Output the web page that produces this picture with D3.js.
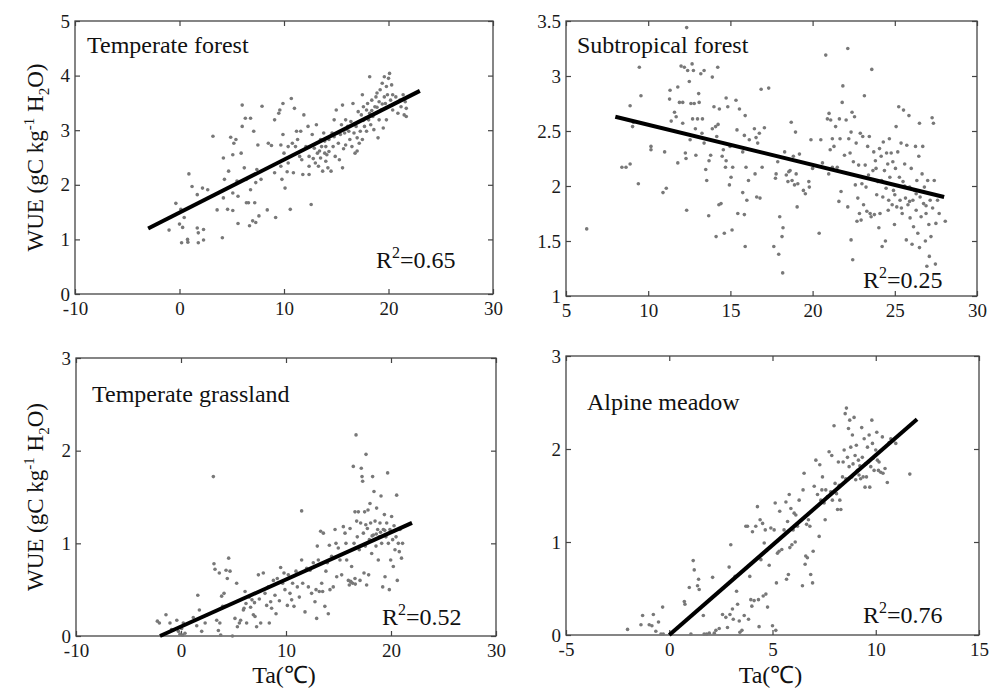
<!DOCTYPE html>
<html><head><meta charset="utf-8">
<script src="https://cdn.jsdelivr.net/npm/d3@7"></script>
<style>body{margin:0;background:#fff}svg{display:block}</style>
</head><body><svg id="c" width="1000" height="693"></svg>
<script>
// ---------- DATA ----------
const panelTitles = ["Temperate forest", "Subtropical forest", "Temperate grassland", "Alpine meadow"];
const r2Values = ["0.65", "0.25", "0.52", "0.76"];
const xDomains = [[-10, 30], [5, 30], [-10, 30], [-5, 15]];
const yDomains = [[0, 5], [1, 3.5], [0, 3], [0, 3]];
const xTickValues = [[-10, 0, 10, 20, 30], [5, 10, 15, 20, 25, 30], [-10, 0, 10, 20, 30], [-5, 0, 5, 10, 15]];
const yTickValues = [[0, 1, 2, 3, 4, 5], [1, 1.5, 2, 2.5, 3, 3.5], [0, 1, 2, 3], [0, 1, 2, 3]];
const fitLines = [
  [[-3, 1.2], [23, 3.72]],
  [[8, 2.63], [28, 1.9]],
  [[-2, 0], [22, 1.22]],
  [[0, 0], [12, 2.32]]
];
const temperateForest = [[-1.0,1.17],[-0.35,1.66],[0.13,1.55],[0.0,1.28],[0.2,0.94],[0.77,1.0],[0.8,0.95],[0.9,2.2],[1.2,1.97],[0.3,1.22],[0.45,1.40],[1.7,1.21],[1.8,1.12],[1.8,0.94],[2.3,1.18],[2.3,0.99],[1.7,1.82],[2.2,1.94],[2.7,1.91],[3.2,2.89],[3.6,1.54],[4.1,1.03],[4.2,1.76],[4.3,2.10],[4.2,2.49],[4.6,1.55],[4.7,2.25],[4.9,2.87],[5.1,2.55],[5.1,1.85],[5.1,1.53],[5.2,2.76],[5.4,2.83],[5.5,2.07],[5.6,1.29],[5.6,1.79],[5.9,2.58],[6.0,3.46],[6.0,3.07],[6.2,2.31],[6.3,3.22],[6.4,1.67],[6.4,2.10],[6.6,1.67],[6.7,1.25],[6.8,3.22],[6.8,1.91],[7.0,1.34],[7.1,2.98],[7.2,1.67],[7.3,1.31],[7.3,2.04],[7.4,2.28],[7.5,2.73],[7.6,1.43],[7.8,2.10],[7.9,3.44],[8.4,1.54],[8.5,2.76],[8.8,2.72],[9.1,2.22],[9.1,3.19],[9.2,1.40],[9.5,3.31],[9.6,3.37],[9.7,2.34],[9.7,2.73],[9.8,2.10],[9.9,2.92],[9.9,3.49],[10.0,2.58],[10.1,1.94],[10.3,2.24],[10.4,2.40],[10.4,2.70],[10.6,1.55],[10.7,3.58],[10.8,2.76],[10.9,2.22],[11.0,3.40],[11.1,2.70],[11.2,2.98],[11.3,2.83],[11.5,2.52],[11.6,2.98],[11.7,2.46],[11.8,2.19],[11.9,3.28],[12.1,2.70],[12.3,3.07],[12.4,2.34],[12.4,2.19],[12.6,1.64],[12.4,2.52],[12.7,2.92],[12.9,2.67],[13.0,2.40],[13.1,3.10],[13.2,2.58],[13.3,2.34],[13.5,2.83],[13.5,2.49],[13.6,2.70],[13.7,2.25],[13.8,2.95],[13.9,2.58],[14.0,2.43],[14.0,2.70],[14.2,2.31],[14.3,2.83],[14.3,2.61],[14.5,2.25],[14.6,2.95],[14.7,2.70],[14.8,3.19],[14.9,2.52],[15.0,3.37],[15.1,2.95],[15.2,2.76],[15.3,2.46],[15.5,3.10],[15.6,2.31],[15.6,3.46],[15.8,2.95],[15.9,3.19],[15.9,2.73],[16.1,3.07],[16.2,2.98],[16.3,2.83],[16.4,3.16],[16.5,2.70],[16.6,3.49],[16.7,2.95],[16.8,2.58],[16.9,3.07],[17.0,2.86],[17.1,3.34],[17.2,2.76],[17.2,3.16],[17.3,2.98],[17.4,3.28],[17.5,3.65],[17.5,2.83],[17.6,3.43],[17.7,3.07],[17.8,3.22],[17.9,3.37],[17.9,2.98],[18.0,3.49],[18.1,3.19],[18.2,3.98],[18.2,3.31],[18.3,3.10],[18.4,3.55],[18.5,3.25],[18.6,3.01],[18.7,3.43],[18.8,3.61],[18.8,3.31],[18.9,3.68],[19.0,2.86],[19.1,3.52],[19.1,3.19],[19.2,3.74],[19.3,3.37],[19.4,3.86],[19.5,3.04],[19.6,3.61],[19.6,3.98],[19.7,3.49],[19.8,3.80],[19.8,3.19],[19.9,3.65],[20.0,3.95],[20.1,4.04],[20.2,3.55],[20.3,3.83],[20.4,3.37],[20.4,3.65],[20.6,3.49],[20.7,3.61],[20.9,3.31],[21.1,3.55],[21.2,3.43],[21.4,3.65],[21.5,3.28],[21.6,3.52],[21.7,3.40],[21.7,3.25],[13.4,2.62],[14.1,2.55],[14.8,2.88],[15.4,2.92],[16.0,3.02],[16.8,3.12],[17.6,3.18],[18.4,3.36],[18.9,3.42],[19.4,3.48],[12.8,2.48],[13.9,2.80],[15.7,2.66],[17.0,2.62]];
const subtropicalForest = [[6.26,1.61],[8.4,2.17],[8.65,2.17],[8.9,2.20],[8.9,2.73],[9.05,2.54],[9.1,2.58],[9.46,3.08],[9.56,2.82],[9.4,2.02],[10.17,2.36],[10.17,2.33],[10.9,1.94],[11.1,1.98],[11.0,2.31],[11.3,2.79],[11.33,2.87],[11.4,2.59],[11.6,2.67],[11.7,2.63],[11.8,2.21],[11.8,2.90],[11.9,2.76],[12.0,3.09],[12.1,2.76],[12.1,2.57],[12.2,3.08],[12.26,2.30],[12.3,2.25],[12.34,1.78],[12.34,3.44],[12.4,3.05],[12.5,2.95],[12.55,2.42],[12.6,2.75],[12.67,3.11],[12.7,2.61],[12.75,3.05],[12.8,2.75],[12.87,2.52],[12.9,2.28],[13.0,2.61],[13.07,2.84],[13.1,2.76],[13.2,3.02],[13.27,2.48],[13.3,2.61],[13.4,3.05],[13.4,2.39],[13.5,2.15],[13.56,2.05],[13.68,1.73],[13.7,2.23],[13.8,2.28],[13.9,2.52],[13.9,2.99],[14.0,2.72],[14.1,2.54],[14.17,2.45],[14.23,3.08],[14.25,2.56],[14.3,1.83],[14.33,2.70],[14.13,1.54],[14.43,1.84],[14.5,2.27],[14.57,2.33],[14.63,1.57],[14.7,2.17],[14.74,2.80],[14.74,2.23],[14.84,2.72],[14.94,2.01],[14.98,2.36],[15.04,2.08],[15.1,1.60],[15.14,2.17],[15.34,2.78],[15.4,2.51],[15.45,1.75],[15.55,2.70],[15.75,1.94],[15.75,2.31],[15.85,2.46],[15.85,1.74],[15.9,2.64],[15.9,1.45],[15.95,2.17],[16.0,1.87],[16.1,2.05],[16.15,2.42],[16.46,2.52],[16.5,2.11],[16.56,2.44],[16.6,1.90],[16.66,2.39],[16.76,2.48],[16.8,1.89],[16.87,2.88],[16.93,2.17],[17.07,2.53],[17.33,2.89],[17.64,1.45],[17.74,2.07],[17.78,2.11],[17.88,2.22],[17.94,1.38],[18.0,1.72],[18.14,1.54],[18.18,1.21],[18.2,1.62],[18.3,2.31],[18.4,2.10],[18.5,2.04],[18.55,2.13],[18.63,2.14],[18.7,2.58],[18.75,2.05],[18.83,2.27],[18.9,2.01],[18.96,2.49],[19.0,2.11],[19.06,1.81],[19.1,2.02],[19.2,2.29],[19.44,1.96],[19.56,1.93],[19.77,2.04],[19.8,1.99],[19.9,2.42],[20.0,2.16],[20.4,1.57],[20.5,2.42],[20.6,2.21],[20.8,3.19],[20.9,2.61],[20.98,2.11],[21.0,2.66],[21.07,2.33],[21.1,2.60],[21.2,2.17],[21.2,2.43],[21.3,2.36],[21.4,2.54],[21.5,2.17],[21.6,1.86],[21.63,2.61],[21.67,2.43],[21.73,1.95],[21.8,2.76],[21.84,2.91],[21.94,2.28],[22.04,2.60],[22.14,3.25],[22.14,1.81],[22.2,2.43],[22.28,2.30],[22.34,2.49],[22.34,1.51],[22.4,2.67],[22.44,1.33],[22.48,2.22],[22.55,2.63],[22.6,2.01],[22.65,2.39],[22.7,1.68],[22.75,1.89],[22.8,2.19],[22.85,1.75],[22.9,2.48],[22.95,1.69],[23.0,2.02],[23.05,2.45],[23.1,1.83],[23.15,2.82],[23.2,2.19],[23.25,1.99],[23.3,1.77],[23.35,2.36],[23.4,2.10],[23.45,2.45],[23.5,1.75],[23.56,1.72],[23.6,3.06],[23.67,2.14],[23.72,2.31],[23.76,1.74],[23.82,2.23],[23.86,2.16],[23.97,2.04],[24.03,1.62],[24.07,2.34],[24.1,1.75],[24.17,2.27],[24.23,1.45],[24.27,1.90],[24.3,2.40],[24.37,2.14],[24.43,1.50],[24.47,1.98],[24.5,2.30],[24.57,2.20],[24.63,1.87],[24.67,2.43],[24.7,2.08],[24.78,2.30],[24.84,1.83],[24.88,2.22],[24.92,1.96],[24.98,1.65],[25.04,2.16],[25.08,2.54],[25.12,1.81],[25.18,2.31],[25.24,2.72],[25.28,2.08],[25.32,1.87],[25.38,2.39],[25.45,1.75],[25.5,2.04],[25.53,2.69],[25.6,2.20],[25.65,1.89],[25.7,1.51],[25.73,2.37],[25.8,1.83],[25.86,2.64],[25.9,1.99],[25.93,1.71],[26.0,2.16],[26.05,1.47],[26.1,1.87],[26.14,1.63],[26.2,1.96],[26.26,2.36],[26.3,1.78],[26.34,2.05],[26.4,1.57],[26.46,2.27],[26.5,1.44],[26.5,2.57],[26.54,1.90],[26.6,1.72],[26.66,2.11],[26.7,2.36],[26.75,1.84],[26.8,1.99],[26.86,1.50],[26.9,1.75],[26.95,1.27],[27.0,2.05],[27.07,1.65],[27.1,1.36],[27.15,1.87],[27.2,1.54],[27.27,2.62],[27.3,1.80],[27.35,2.57],[27.4,2.05],[27.47,1.29],[27.5,1.66],[27.6,1.87],[27.7,1.75],[28.07,1.68],[24.6,1.78],[25.0,1.92],[25.4,1.80],[25.9,1.86],[26.3,1.93],[26.9,1.82],[24.2,2.05],[25.6,2.00],[23.9,1.92]];
const temperateGrassland = [[-2.25,0.16],[-2.06,0.14],[-1.43,0.23],[-1.05,0.14],[-0.9,0.07],[-0.4,0.17],[-0.25,0.05],[-0.1,0.02],[0.06,0.08],[0.16,0.01],[0.22,0.14],[0.38,0.03],[1.17,0.20],[1.5,0.11],[1.6,0.44],[1.75,0.28],[1.97,0.05],[2.3,0.14],[2.5,0.23],[3.08,1.72],[3.14,0.78],[3.24,0.72],[3.4,0.17],[3.56,0.06],[3.65,0.68],[3.7,0.14],[3.78,0.01],[3.87,0.43],[3.97,0.32],[4.1,0.46],[4.2,0.32],[4.29,0.71],[4.41,0.62],[4.54,0.84],[4.67,0.70],[4.9,0.0],[5.14,0.19],[5.3,0.57],[5.37,0.10],[5.56,0.14],[5.68,0.17],[5.94,0.28],[6.1,0.48],[6.19,0.35],[6.25,0.14],[6.5,0.42],[6.63,0.31],[6.76,0.39],[6.89,0.23],[7.05,0.21],[7.2,0.10],[7.37,0.66],[7.46,0.40],[7.59,0.14],[7.84,0.68],[8.0,0.46],[8.16,0.33],[8.32,0.53],[8.41,0.14],[8.54,0.37],[8.63,0.30],[8.8,0.60],[8.95,0.44],[9.05,0.24],[9.17,0.62],[9.37,0.38],[9.49,0.74],[9.68,0.57],[9.81,0.68],[9.9,0.50],[10.13,0.33],[10.22,0.66],[10.38,0.46],[10.54,0.39],[10.63,0.57],[10.76,0.32],[10.95,0.70],[11.08,0.53],[11.27,0.42],[11.49,1.35],[11.49,0.82],[11.59,0.57],[11.81,0.26],[11.97,0.73],[12.13,0.53],[12.29,0.71],[12.44,0.46],[12.6,0.79],[12.76,0.37],[12.86,0.50],[12.92,0.19],[12.98,0.97],[13.08,0.82],[13.17,0.48],[13.3,1.13],[13.4,0.57],[13.49,0.48],[13.56,1.11],[13.7,0.32],[13.8,0.70],[13.94,0.79],[14.03,0.24],[14.13,0.98],[14.19,0.50],[14.35,0.86],[14.5,0.53],[14.67,1.15],[14.76,1.0],[14.83,0.64],[14.98,0.95],[15.14,0.82],[15.3,0.66],[15.46,1.18],[15.62,1.11],[15.71,1.0],[15.78,0.82],[15.94,0.60],[16.03,0.55],[16.1,1.16],[16.16,0.59],[16.25,0.75],[16.35,0.57],[16.41,1.83],[16.48,1.0],[16.57,1.34],[16.57,0.62],[16.67,2.17],[16.73,1.24],[16.79,1.07],[16.89,1.34],[16.98,0.93],[17.05,0.60],[17.11,1.22],[17.17,1.81],[17.24,1.72],[17.3,1.67],[17.37,1.11],[17.43,0.68],[17.49,1.34],[17.56,0.97],[17.62,1.96],[17.68,0.55],[17.75,1.16],[17.81,1.36],[17.87,0.66],[17.94,1.04],[18.0,1.43],[18.06,1.22],[18.16,0.89],[18.25,1.72],[18.32,1.09],[18.38,1.56],[18.48,1.24],[18.57,0.97],[18.63,1.38],[18.73,1.15],[18.79,0.82],[18.89,1.07],[18.95,1.22],[19.05,1.51],[19.11,1.0],[19.21,0.53],[19.27,1.15],[19.37,1.31],[19.43,0.64],[19.52,1.07],[19.59,1.22],[19.68,1.76],[19.75,1.0],[19.84,0.50],[19.9,1.15],[19.97,0.82],[20.06,1.29],[20.16,1.04],[20.22,0.75],[20.29,1.19],[20.38,0.93],[20.48,1.07],[20.54,1.52],[20.6,0.60],[20.7,1.0],[20.79,0.91],[20.86,1.15],[21.0,0.84],[21.1,1.0],[18.6,1.10],[19.0,1.12],[19.4,1.14],[18.2,1.08],[17.6,1.20],[16.2,0.58],[16.6,0.56],[7.0,0.36],[6.0,0.30]];
const alpineMeadow = [[-2.02,0.06],[-1.37,0.11],[-1.29,0.21],[-0.97,0.11],[-0.84,0.10],[-0.77,0.22],[-0.65,0.04],[-0.52,0.14],[-0.4,0.01],[-0.32,0.30],[-0.29,0.01],[0.73,0.36],[0.76,0.33],[0.97,0.51],[1.05,0.01],[1.16,0.80],[1.21,0.70],[1.37,0.53],[1.42,0.60],[1.45,0.49],[1.65,0.21],[1.69,0.01],[1.81,0.01],[1.94,0.02],[2.1,0.62],[2.18,0.02],[2.26,0.05],[2.42,0.07],[2.58,0.22],[2.74,0.19],[2.82,0.08],[2.9,0.73],[2.94,0.22],[2.98,0.97],[3.06,0.28],[3.1,0.17],[3.19,0.63],[3.26,0.47],[3.31,0.33],[3.39,0.15],[3.42,0.03],[3.52,0.05],[3.63,0.21],[3.71,1.17],[3.79,1.17],[3.84,0.17],[3.9,0.63],[3.95,0.38],[4.0,0.31],[4.03,1.11],[4.11,0.37],[4.19,1.17],[4.27,1.38],[4.32,0.38],[4.35,0.09],[4.4,1.24],[4.44,0.81],[4.52,1.20],[4.55,0.42],[4.6,0.99],[4.65,1.13],[4.68,0.44],[4.76,0.30],[4.84,0.75],[4.92,1.15],[5.0,0.10],[5.08,1.13],[5.13,1.42],[5.16,0.05],[5.19,0.56],[5.24,0.88],[5.32,0.90],[5.35,1.33],[5.45,0.92],[5.56,1.13],[5.65,1.43],[5.68,0.60],[5.73,1.22],[5.77,0.65],[5.81,1.51],[5.84,0.94],[5.89,1.36],[5.94,0.97],[6.0,1.13],[6.05,1.31],[6.1,1.0],[6.13,1.29],[6.21,1.17],[6.29,1.45],[6.45,0.53],[6.48,1.56],[6.53,1.74],[6.58,0.76],[6.61,0.85],[6.65,1.19],[6.69,0.83],[6.74,1.24],[6.81,1.17],[6.85,0.65],[6.94,0.56],[6.97,0.90],[7.02,1.60],[7.1,1.88],[7.18,1.51],[7.26,1.06],[7.29,1.83],[7.34,1.45],[7.39,1.56],[7.42,1.70],[7.5,1.42],[7.55,1.24],[7.58,1.56],[7.66,1.49],[7.74,1.97],[7.82,1.54],[7.87,1.93],[7.9,1.45],[7.98,2.25],[8.03,1.63],[8.1,1.52],[8.15,1.35],[8.19,1.86],[8.23,1.61],[8.26,1.45],[8.31,1.35],[8.39,1.70],[8.42,1.86],[8.47,1.99],[8.52,2.38],[8.55,1.68],[8.58,2.44],[8.63,1.91],[8.68,2.22],[8.71,1.81],[8.74,2.31],[8.79,2.02],[8.84,1.70],[8.87,2.15],[8.9,1.84],[8.95,2.34],[9.0,1.93],[9.03,1.67],[9.06,2.04],[9.11,1.77],[9.16,1.88],[9.19,1.72],[9.23,1.82],[9.27,1.68],[9.32,2.23],[9.35,1.91],[9.39,1.70],[9.44,2.11],[9.48,1.59],[9.52,1.84],[9.55,1.70],[9.6,2.02],[9.65,1.86],[9.68,2.15],[9.71,1.59],[9.76,1.81],[9.81,2.31],[9.84,2.06],[9.87,1.90],[9.92,1.77],[10.0,1.99],[10.05,2.18],[10.08,1.88],[10.13,1.77],[10.16,1.86],[10.24,1.75],[10.32,2.13],[10.35,1.74],[10.45,1.79],[10.56,1.64],[10.65,2.07],[10.73,2.11],[10.84,2.09],[10.97,2.06],[11.65,1.73]];

// ---------- LAYOUT ----------
const rects = [[75, 493, 21, 294], [566, 977, 21, 296], [76, 496, 358, 636], [566, 979, 356, 635]];
const titleOffsets = [[12, 53], [11, 53], [16, 402], [21, 410]];
const r2Pos = [[376, 268], [863, 288], [382, 625], [863, 623]];
const pointSets = [temperateForest, subtropicalForest, temperateGrassland, alpineMeadow];

const serif = "'Liberation Serif','Times New Roman',serif";
const svg = d3.select("#c");
const fmt = d => String(d);

pointSets.forEach((pts, i) => {
  const [x0, x1, y0, y1] = rects[i];
  const x = d3.scaleLinear().domain(xDomains[i]).range([x0, x1]);
  const y = d3.scaleLinear().domain(yDomains[i]).range([y1, y0]);
  const g = svg.append("g");

  const styleAxis = sel => {
    sel.select(".domain").remove();
    sel.selectAll(".tick line").attr("stroke", "#444").attr("stroke-width", 1.2);
    sel.selectAll(".tick text").attr("fill", "#1a1a1a").style("font-family", serif).style("font-size", "19px");
  };
  g.append("g").attr("transform", `translate(0,${y1})`)
    .call(d3.axisBottom(x).tickValues(xTickValues[i]).tickSizeInner(-5).tickSizeOuter(0).tickPadding(8).tickFormat(fmt)).call(styleAxis);
  g.append("g").attr("transform", `translate(0,${y0})`)
    .call(d3.axisTop(x).tickValues(xTickValues[i]).tickSizeInner(-5).tickSizeOuter(0).tickFormat(() => "")).call(styleAxis);
  g.append("g").attr("transform", `translate(${x0},0)`)
    .call(d3.axisLeft(y).tickValues(yTickValues[i]).tickSizeInner(-5).tickSizeOuter(0).tickPadding(5).tickFormat(fmt)).call(styleAxis);
  g.append("g").attr("transform", `translate(${x1},0)`)
    .call(d3.axisRight(y).tickValues(yTickValues[i]).tickSizeInner(-5).tickSizeOuter(0).tickFormat(() => "")).call(styleAxis);

  g.append("rect").attr("x", x0).attr("y", y0).attr("width", x1 - x0).attr("height", y1 - y0)
    .attr("fill", "none").attr("stroke", "#444").attr("stroke-width", 1.3);

  g.append("g").selectAll("circle").data(pts).join("circle")
    .attr("cx", d => x(d[0])).attr("cy", d => y(d[1])).attr("r", 1.8).attr("fill", "#787878");

  g.append("path").datum(fitLines[i])
    .attr("d", d3.line().x(d => x(d[0])).y(d => y(d[1])))
    .attr("stroke", "#000").attr("stroke-width", 4).attr("fill", "none");

  g.append("text").attr("x", x0 + titleOffsets[i][0]).attr("y", titleOffsets[i][1])
    .style("font-family", serif).style("font-size", "24px").attr("fill", "#111").text(panelTitles[i]);

  const r2 = g.append("text").attr("x", r2Pos[i][0]).attr("y", r2Pos[i][1])
    .style("font-family", serif).style("font-size", "24px").attr("fill", "#111");
  r2.append("tspan").text("R");
  r2.append("tspan").attr("dy", -10).style("font-size", "16px").text("2");
  r2.append("tspan").attr("dy", 10).text("=" + r2Values[i]);

  if (i % 2 === 0) {
    const cy = (y0 + y1) / 2;
    const t = g.append("text").attr("transform", `translate(43,${cy}) rotate(-90)`)
      .attr("text-anchor", "middle").style("font-family", serif).style("font-size", "23px").attr("fill", "#111");
    t.append("tspan").text("WUE (gC kg");
    t.append("tspan").attr("dy", -9).style("font-size", "15px").text("-1");
    t.append("tspan").attr("dy", 9).text(" H");
    t.append("tspan").attr("dy", 6).style("font-size", "15px").text("2");
    t.append("tspan").attr("dy", -6).text("O)");
  }
  if (i >= 2) {
    g.append("text").attr("x", (x0 + x1) / 2 - 2).attr("y", 683).attr("text-anchor", "middle")
      .style("font-family", serif).style("font-size", "24px").attr("fill", "#111")
      .text("Ta(℃)");
  }
});
</script>
</body></html>
